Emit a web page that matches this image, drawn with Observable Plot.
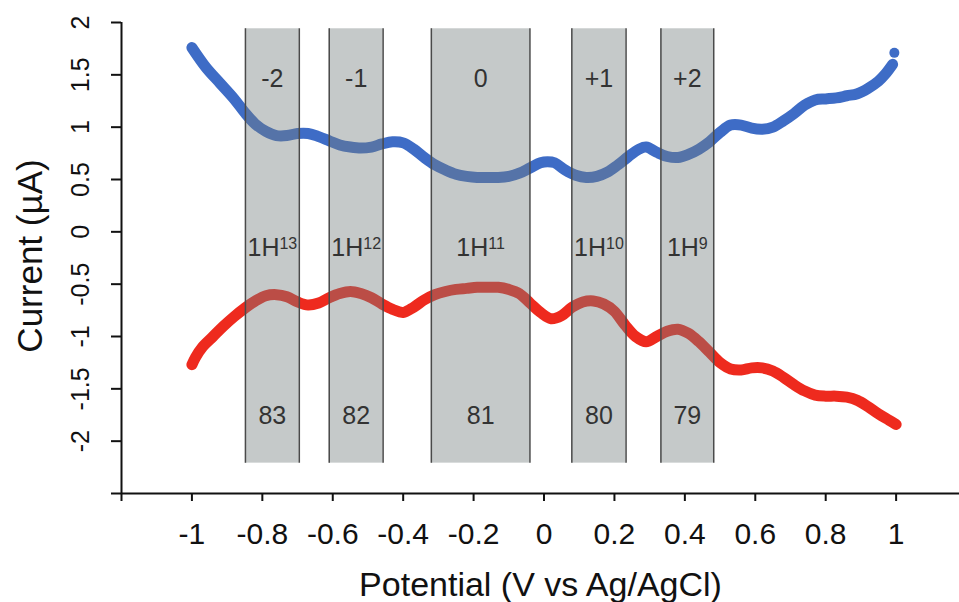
<!DOCTYPE html>
<html>
<head>
<meta charset="utf-8">
<script src="https://cdn.jsdelivr.net/npm/d3@7"></script>
<script src="https://cdn.jsdelivr.net/npm/@observablehq/plot@0.6"></script>
<style>
  body { margin: 0; background: #fff; }
  #chart svg { display: block; font-family: "Liberation Sans", Arial, Helvetica, sans-serif; }
</style>
</head>
<body>
<div id="chart"></div>
<script>
// Anodic (oxidation) sweep: potential in V vs Ag/AgCl, current in µA
const anodicPotential = [-1.00, -0.96, -0.92, -0.88, -0.85, -0.82, -0.79, -0.76, -0.73, -0.70,
  -0.67, -0.64, -0.61, -0.58, -0.55, -0.52, -0.49, -0.46, -0.43, -0.40,
  -0.37, -0.34, -0.31, -0.28, -0.25, -0.22, -0.19, -0.16, -0.13, -0.10,
  -0.07, -0.04, -0.01, 0.01, 0.03, 0.06, 0.09, 0.12, 0.15, 0.18,
  0.21, 0.24, 0.27, 0.29, 0.32, 0.35, 0.38, 0.41, 0.44, 0.47,
  0.50, 0.53, 0.56, 0.59, 0.62, 0.65, 0.68, 0.71, 0.74, 0.77,
  0.80, 0.83, 0.86, 0.89, 0.92, 0.95, 0.97, 0.99];
const anodicCurrent = [1.76, 1.57, 1.42, 1.27, 1.14, 1.03, 0.96, 0.92, 0.92, 0.94,
  0.94, 0.91, 0.87, 0.83, 0.81, 0.80, 0.81, 0.84, 0.86, 0.85,
  0.79, 0.71, 0.64, 0.59, 0.55, 0.53, 0.52, 0.52, 0.52, 0.53,
  0.56, 0.61, 0.66, 0.67, 0.66, 0.59, 0.54, 0.52, 0.53, 0.57,
  0.64, 0.72, 0.79, 0.81, 0.76, 0.72, 0.71, 0.74, 0.79, 0.86,
  0.95, 1.02, 1.02, 0.99, 0.98, 1.00, 1.06, 1.13, 1.21, 1.26,
  1.27, 1.28, 1.30, 1.32, 1.37, 1.44, 1.51, 1.60];
// last anodic sample, recorded apart from the trace
const anodicLastPotential = [0.995];
const anodicLastCurrent = [1.71];

// Cathodic (reduction) sweep
const cathodicPotential = [-1.00, -0.99, -0.97, -0.94, -0.91, -0.88, -0.85, -0.82, -0.79, -0.76,
  -0.73, -0.70, -0.67, -0.64, -0.61, -0.58, -0.55, -0.52, -0.49, -0.46,
  -0.43, -0.40, -0.37, -0.34, -0.31, -0.28, -0.25, -0.22, -0.19, -0.16,
  -0.13, -0.10, -0.07, -0.04, -0.01, 0.02, 0.05, 0.08, 0.11, 0.14,
  0.17, 0.20, 0.23, 0.26, 0.29, 0.32, 0.35, 0.38, 0.41, 0.44,
  0.47, 0.50, 0.53, 0.56, 0.59, 0.62, 0.65, 0.68, 0.71, 0.74,
  0.77, 0.80, 0.83, 0.86, 0.89, 0.92, 0.95, 0.98, 1.00];
const cathodicCurrent = [-1.27, -1.20, -1.10, -1.00, -0.90, -0.81, -0.73, -0.66, -0.61, -0.60,
  -0.62, -0.67, -0.70, -0.68, -0.63, -0.59, -0.57, -0.59, -0.63, -0.69,
  -0.74, -0.77, -0.72, -0.65, -0.60, -0.57, -0.55, -0.54, -0.53, -0.53,
  -0.53, -0.55, -0.59, -0.68, -0.77, -0.83, -0.80, -0.72, -0.67, -0.66,
  -0.69, -0.76, -0.89, -1.00, -1.05, -1.00, -0.95, -0.93, -0.97, -1.05,
  -1.15, -1.25, -1.31, -1.32, -1.30, -1.30, -1.33, -1.39, -1.46, -1.52,
  -1.56, -1.57, -1.57, -1.58, -1.61, -1.67, -1.74, -1.80, -1.84];

// Charge-state windows
const bandStart = [-0.848, -0.610, -0.320, 0.079, 0.332];
const bandEnd = [-0.695, -0.457, -0.040, 0.233, 0.482];
const chargeLabels = ["-2", "-1", "0", "+1", "+2"];
const hydrideBase = ["1H", "1H", "1H", "1H", "1H"];
const hydrideSup = ["13", "12", "11", "10", "9"];
const massLabels = ["83", "82", "81", "80", "79"];

// Axis ticks
const xTicks = [-1.2, -1, -0.8, -0.6, -0.4, -0.2, 0, 0.2, 0.4, 0.6, 0.8, 1];
const yTicks = [-2.5, -2, -1.5, -1, -0.5, 0, 0.5, 1, 1.5, 2];

const anodic = anodicPotential.map((x, i) => ({x, y: anodicCurrent[i]}));
const anodicLast = anodicLastPotential.map((x, i) => ({x, y: anodicLastCurrent[i]}));
const cathodic = cathodicPotential.map((x, i) => ({x, y: cathodicCurrent[i]}));
const bands = chargeLabels.map((c, i) => ({
  x1: bandStart[i], x2: bandEnd[i], xm: (bandStart[i] + bandEnd[i]) / 2,
  charge: c, hydride: hydrideBase[i] + hydrideSup[i], mass: massLabels[i]
}));

const bandTop = 1.94, bandBottom = -2.21;
const blue = "#3e6cc6", red = "#ee2a1e", ink = "#111";

const chart = Plot.plot({
  width: 959,
  height: 602,
  marginTop: 22,
  marginLeft: 121,
  marginRight: 0,
  marginBottom: 109,
  x: {domain: [-1.2, 1.18]},
  y: {domain: [-2.5, 2]},
  style: {background: "#fff", fontFamily: "Liberation Sans, Arial, Helvetica, sans-serif"},
  marks: [
    Plot.line(anodic, {x: "x", y: "y", stroke: blue, strokeWidth: 11, curve: "catmull-rom",
      strokeLinecap: "round", strokeLinejoin: "round"}),
    Plot.dot(anodicLast, {x: "x", y: "y", r: 5, fill: blue}),
    Plot.line(cathodic, {x: "x", y: "y", stroke: red, strokeWidth: 11, curve: "catmull-rom",
      strokeLinecap: "round", strokeLinejoin: "round"}),
    // translucent grey windows lie over the traces
    Plot.rect(bands, {x1: "x1", x2: "x2", y1: bandBottom, y2: bandTop, fill: "#757e7e", fillOpacity: 0.42}),
    Plot.ruleX(bands, {x: "x1", y1: bandBottom, y2: bandTop, stroke: "#4a4a4a", strokeWidth: 1.5}),
    Plot.ruleX(bands, {x: "x2", y1: bandBottom, y2: bandTop, stroke: "#4a4a4a", strokeWidth: 1.5}),
    Plot.text(bands, {x: "xm", y: 1.46, text: "charge", fontSize: 25, fill: "#333"}),
    Plot.text(bands, {x: "xm", y: -0.15, text: "hydride", fontSize: 25, fill: "#333"}),
    Plot.text(bands, {x: "xm", y: -1.76, text: "mass", fontSize: 25, fill: "#333"}),
    // axes
    Plot.ruleX([-1.2], {stroke: ink, strokeWidth: 2}),
    Plot.ruleY([-2.5], {stroke: ink, strokeWidth: 2}),
    Plot.axisX({ticks: xTicks, tickSize: 8, tickPadding: 21, fontSize: 30, color: ink, strokeWidth: 2,
      tickFormat: d => d === -1.2 ? "" : String(d), label: null}),
    Plot.axisY({ticks: yTicks, tickSize: 10, tickPadding: 23, tickRotate: -90, fontSize: 25, color: ink, strokeWidth: 2,
      tickFormat: d => d === -2.5 ? "" : String(d), label: null}),
    Plot.text(["Potential (V vs Ag/AgCl)"], {frameAnchor: "bottom", dy: 102, lineAnchor: "bottom", fontSize: 34, fill: ink}),
    Plot.text(["Current (µA)"], {frameAnchor: "left", dx: -80, dy: -2, rotate: -90, textAnchor: "middle",
      lineAnchor: "bottom", fontSize: 35, fill: ink})
  ]
});

// set the isotope counts as superscripts
d3.select(chart).selectAll("text").each(function () {
  const s = this.textContent;
  const i = bands.findIndex(b => b.hydride === s);
  if (i < 0) return;
  const t = d3.select(this);
  t.text(null);
  t.append("tspan").text(hydrideBase[i]);
  t.append("tspan").attr("font-size", "0.64em").attr("dy", "-0.42em").text(hydrideSup[i]);
});

document.getElementById("chart").append(chart);
</script>
</body>
</html>
